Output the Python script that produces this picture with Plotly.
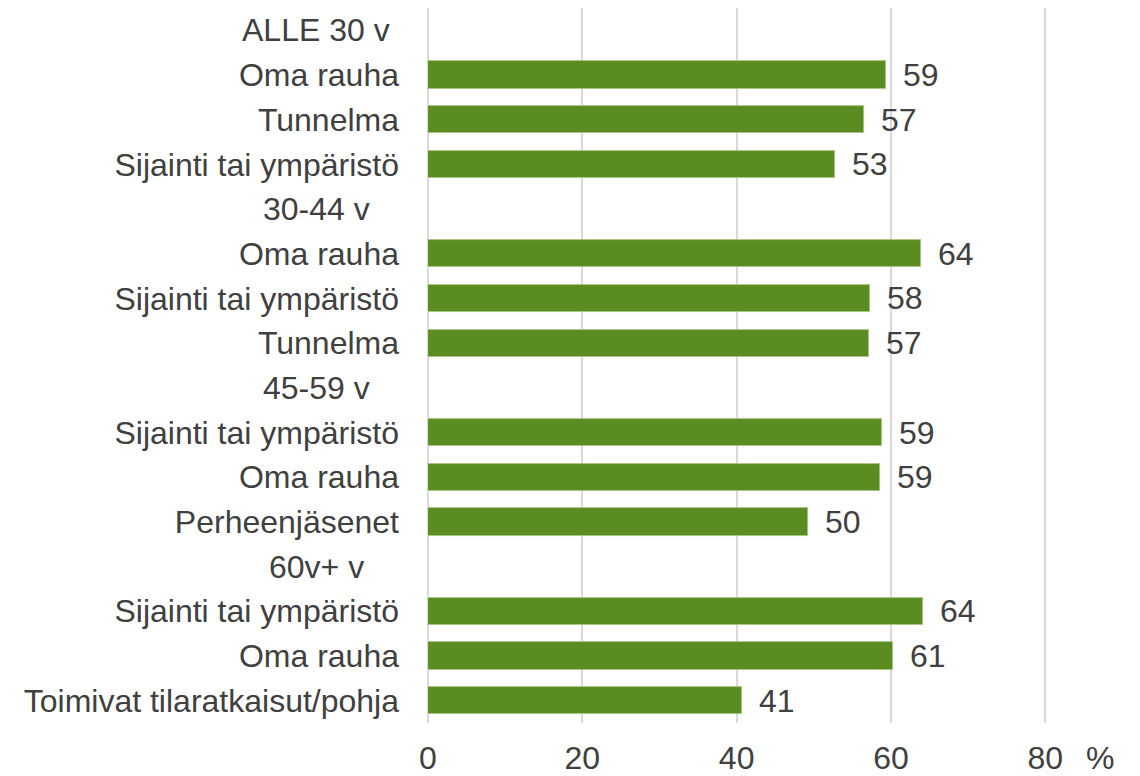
import plotly.graph_objects as go

# ---- data ----
categories = [
    "ALLE 30 v", "Oma rauha", "Tunnelma", "Sijainti tai ympäristö",
    "30-44 v", "Oma rauha", "Sijainti tai ympäristö", "Tunnelma",
    "45-59 v", "Sijainti tai ympäristö", "Oma rauha", "Perheenjäsenet",
    "60v+ v", "Sijainti tai ympäristö", "Oma rauha", "Toimivat tilaratkaisut/pohja",
]
group_headers = ["ALLE 30 v", "30-44 v", "45-59 v", "60v+ v"]
values = [None, 59.3, 56.5, 52.7,
          None, 63.9, 57.3, 57.2,
          None, 58.8, 58.6, 49.3,
          None, 64.2, 60.3, 40.7]
value_labels = ["", "59", "57", "53",
                "", "64", "58", "57",
                "", "59", "59", "50",
                "", "64", "61", "41"]
x_ticks = [0, 20, 40, 60, 80]
x_unit = "%"

# ---- style ----
FONT = "Liberation Sans, Arial, sans-serif"
TXT = "#404040"
FS = 32
BAR = "#5b8c22"
GRID = "#d9d9d9"

rows = list(range(len(categories)))
is_header = [c in group_headers for c in categories]

fig = go.Figure()
fig.add_trace(go.Bar(
    y=rows, x=values, orientation="h", width=0.61,
    marker=dict(color=BAR, line=dict(color="#a8c585", width=0.8)),
    hoverinfo="skip", showlegend=False,
))

annotations = []
for r, v, lab in zip(rows, values, value_labels):
    if v is None:
        continue
    annotations.append(dict(
        x=v, y=r, xref="x", yref="y", text=lab, showarrow=False,
        xanchor="left", yanchor="middle", xshift=15,
        font=dict(family=FONT, size=FS, color=TXT),
    ))
for r, c, h in zip(rows, categories, is_header):
    if h:
        annotations.append(dict(
            x=-0.1785, y=r, xref="paper", yref="y", text=c, showarrow=False,
            xanchor="center", yanchor="middle",
            font=dict(family=FONT, size=FS, color=TXT),
        ))
annotations.append(dict(
    x=1.0747, y=-0.0483, xref="paper", yref="paper", text=x_unit, showarrow=False,
    xanchor="center", yanchor="middle", borderpad=0,
    font=dict(family=FONT, size=FS, color=TXT),
))

fig.update_layout(
    width=1140, height=776,
    margin=dict(l=428, r=87, t=8, b=53, pad=0),
    paper_bgcolor="white", plot_bgcolor="white",
    font=dict(family=FONT, size=FS, color=TXT),
    annotations=annotations,
    bargap=0,
)
fig.update_xaxes(
    range=[0, 81], tickvals=x_ticks, ticktext=[str(t) for t in x_ticks],
    showgrid=True, gridcolor=GRID, gridwidth=2,
    zeroline=True, zerolinecolor=GRID, zerolinewidth=2,
    showline=False, ticks="", ticklabelstandoff=13, automargin=False,
    tickfont=dict(family=FONT, size=FS, color=TXT),
)
fig.update_yaxes(
    range=[len(categories) - 0.5, -0.5],
    tickvals=rows,
    ticktext=["" if h else c for c, h in zip(categories, is_header)],
    showgrid=False, zeroline=False, showline=False, ticks="",
    ticklabelstandoff=28, automargin=False,
    tickfont=dict(family=FONT, size=FS, color=TXT),
)

fig.write_html(
    "out.html",
    config={"displayModeBar": False},
    post_script="document.body.style.margin='0';document.body.style.overflow='hidden';",
)
